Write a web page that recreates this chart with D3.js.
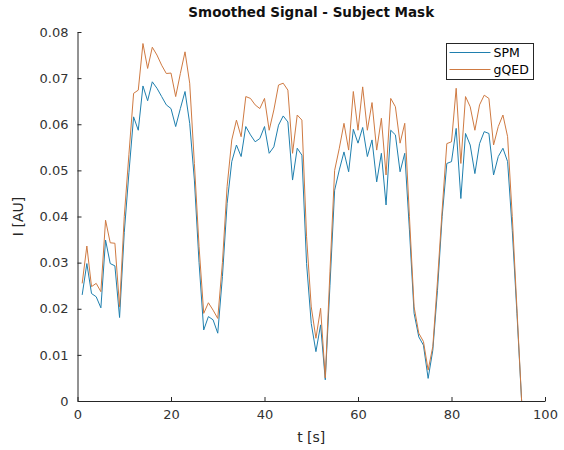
<!DOCTYPE html>
<html>
<head>
<meta charset="utf-8">
<script src="https://cdn.jsdelivr.net/npm/d3@7"></script>
<style>
  html, body { margin: 0; padding: 0; background: #fff; }
  svg { display: block; font-family: "DejaVu Sans", sans-serif; }
</style>
</head>
<body>
<svg id="chart" width="564" height="450"></svg>
<script>
// Sample times (s)
const times = d3.range(1, 96);

// Smoothed mean intensity in the subject mask, SPM pipeline
const spm = [
  0.0230, 0.0298, 0.0233, 0.0226, 0.0202, 0.0349, 0.0298, 0.0293, 0.0181, 0.0365,
  0.0495, 0.0616, 0.0587, 0.0683, 0.0651, 0.0692, 0.0678, 0.0660, 0.0642, 0.0634,
  0.0595, 0.0634, 0.0671, 0.0602, 0.0479, 0.0300, 0.0154, 0.0183, 0.0176, 0.0147,
  0.0270, 0.0428, 0.0519, 0.0555, 0.0530, 0.0595, 0.0577, 0.0562, 0.0569, 0.0595,
  0.0537, 0.0551, 0.0598, 0.0618, 0.0605, 0.0479, 0.0548, 0.0533, 0.0298, 0.0168,
  0.0107, 0.0165, 0.0046, 0.0250, 0.0457, 0.0501, 0.0540, 0.0497, 0.0589, 0.0559,
  0.0593, 0.0530, 0.0566, 0.0475, 0.0537, 0.0425, 0.0587, 0.0577, 0.0497, 0.0537,
  0.0371, 0.0190, 0.0139, 0.0121, 0.0049, 0.0110, 0.0240, 0.0400, 0.0515, 0.0519,
  0.0591, 0.0439, 0.0580, 0.0555, 0.0493, 0.0558, 0.0584, 0.0580, 0.0490, 0.0530,
  0.0548, 0.0519, 0.0370, 0.0190, 0.0000
];

// Smoothed mean intensity in the subject mask, gQED pipeline
const gqed = [
  0.0255, 0.0336, 0.0248, 0.0255, 0.0237, 0.0392, 0.0343, 0.0342, 0.0204, 0.0400,
  0.0535, 0.0667, 0.0674, 0.0775, 0.0721, 0.0767, 0.0750, 0.0728, 0.0710, 0.0711,
  0.0660, 0.0710, 0.0757, 0.0689, 0.0515, 0.0335, 0.0190, 0.0213, 0.0197, 0.0179,
  0.0300, 0.0465, 0.0566, 0.0609, 0.0573, 0.0660, 0.0656, 0.0642, 0.0634, 0.0656,
  0.0587, 0.0631, 0.0685, 0.0689, 0.0674, 0.0537, 0.0620, 0.0609, 0.0356, 0.0204,
  0.0136, 0.0201, 0.0050, 0.0280, 0.0500, 0.0548, 0.0602, 0.0544, 0.0671, 0.0587,
  0.0681, 0.0587, 0.0647, 0.0544, 0.0613, 0.0490, 0.0656, 0.0638, 0.0559, 0.0602,
  0.0400, 0.0204, 0.0147, 0.0129, 0.0067, 0.0118, 0.0260, 0.0414, 0.0558, 0.0562,
  0.0678, 0.0515, 0.0660, 0.0638, 0.0587, 0.0642, 0.0663, 0.0656, 0.0555, 0.0595,
  0.0620, 0.0573, 0.0400, 0.0200, 0.0000
];

const seriesNames = ["SPM", "gQED"];
const seriesColors = ["#1f7fae", "#cf7a42"];
const xTicks = [0, 20, 40, 60, 80, 100];
const yTicks = [0, 0.01, 0.02, 0.03, 0.04, 0.05, 0.06, 0.07, 0.08];

const titleText = "Smoothed Signal - Subject Mask";
const xLabel = "t [s]";
const yLabel = "I [AU]";

const svg = d3.select("#chart");
const axisColor = "#262626";

const x = d3.scaleLinear().domain([0, 100]).range([77.5, 545]);
const y = d3.scaleLinear().domain([0, 0.08]).range([401, 32]);

// Axes (ticks pointing inward, no box)
const xAxis = d3.axisBottom(x).tickValues(xTicks).tickSizeInner(-4).tickSizeOuter(0)
  .tickPadding(9).tickFormat(d3.format("d"));
const yAxis = d3.axisLeft(y).tickValues(yTicks).tickSizeInner(-4).tickSizeOuter(0)
  .tickPadding(9).tickFormat(d => d === 0 ? "0" : d3.format(".2f")(d));

const gx = svg.append("g").attr("transform", `translate(0,${y(0)})`).call(xAxis);
const gy = svg.append("g").attr("transform", `translate(${x(0)},0)`).call(yAxis);

[gx, gy].forEach(g => {
  g.select(".domain").attr("stroke", axisColor).attr("stroke-width", 1);
  g.selectAll(".tick line").attr("stroke", axisColor);
  g.selectAll(".tick text").attr("fill", "#333")
    .style("font-family", "'DejaVu Sans', sans-serif").style("font-size", "13px");
});

// Series lines
const line = d3.line().x((d, i) => x(times[i])).y(d => y(d));
[spm, gqed].forEach((vals, k) => {
  svg.append("path")
    .datum(vals)
    .attr("fill", "none")
    .attr("stroke", seriesColors[k])
    .attr("stroke-width", 1)
    .attr("stroke-linejoin", "round")
    .attr("d", line);
});

// Title and axis labels
svg.append("text")
  .attr("x", (x(0) + x(100)) / 2).attr("y", 17)
  .attr("text-anchor", "middle")
  .attr("fill", "#111")
  .style("font-size", "13.5px").style("font-weight", "bold")
  .text(titleText);

svg.append("text")
  .attr("x", (x(0) + x(100)) / 2).attr("y", 442)
  .attr("text-anchor", "middle")
  .attr("fill", axisColor)
  .style("font-size", "14px")
  .text(xLabel);

svg.append("text")
  .attr("transform", `translate(23,${(y(0) + y(0.08)) / 2}) rotate(-90)`)
  .attr("text-anchor", "middle")
  .attr("fill", axisColor)
  .style("font-size", "14px")
  .text(yLabel);

// Legend
const lg = svg.append("g").attr("transform", "translate(446.5,43.5)");
lg.append("rect").attr("width", 87).attr("height", 36)
  .attr("fill", "#fff").attr("stroke", axisColor).attr("stroke-width", 1);
seriesNames.forEach((name, k) => {
  const yy = 9 + k * 17;
  lg.append("line").attr("x1", 3).attr("x2", 44).attr("y1", yy).attr("y2", yy)
    .attr("stroke", seriesColors[k]).attr("stroke-width", 1);
  lg.append("text").attr("x", 47).attr("y", yy + 4.5)
    .attr("fill", "#000").style("font-size", "12.5px").text(name);
});
</script>
</body>
</html>
